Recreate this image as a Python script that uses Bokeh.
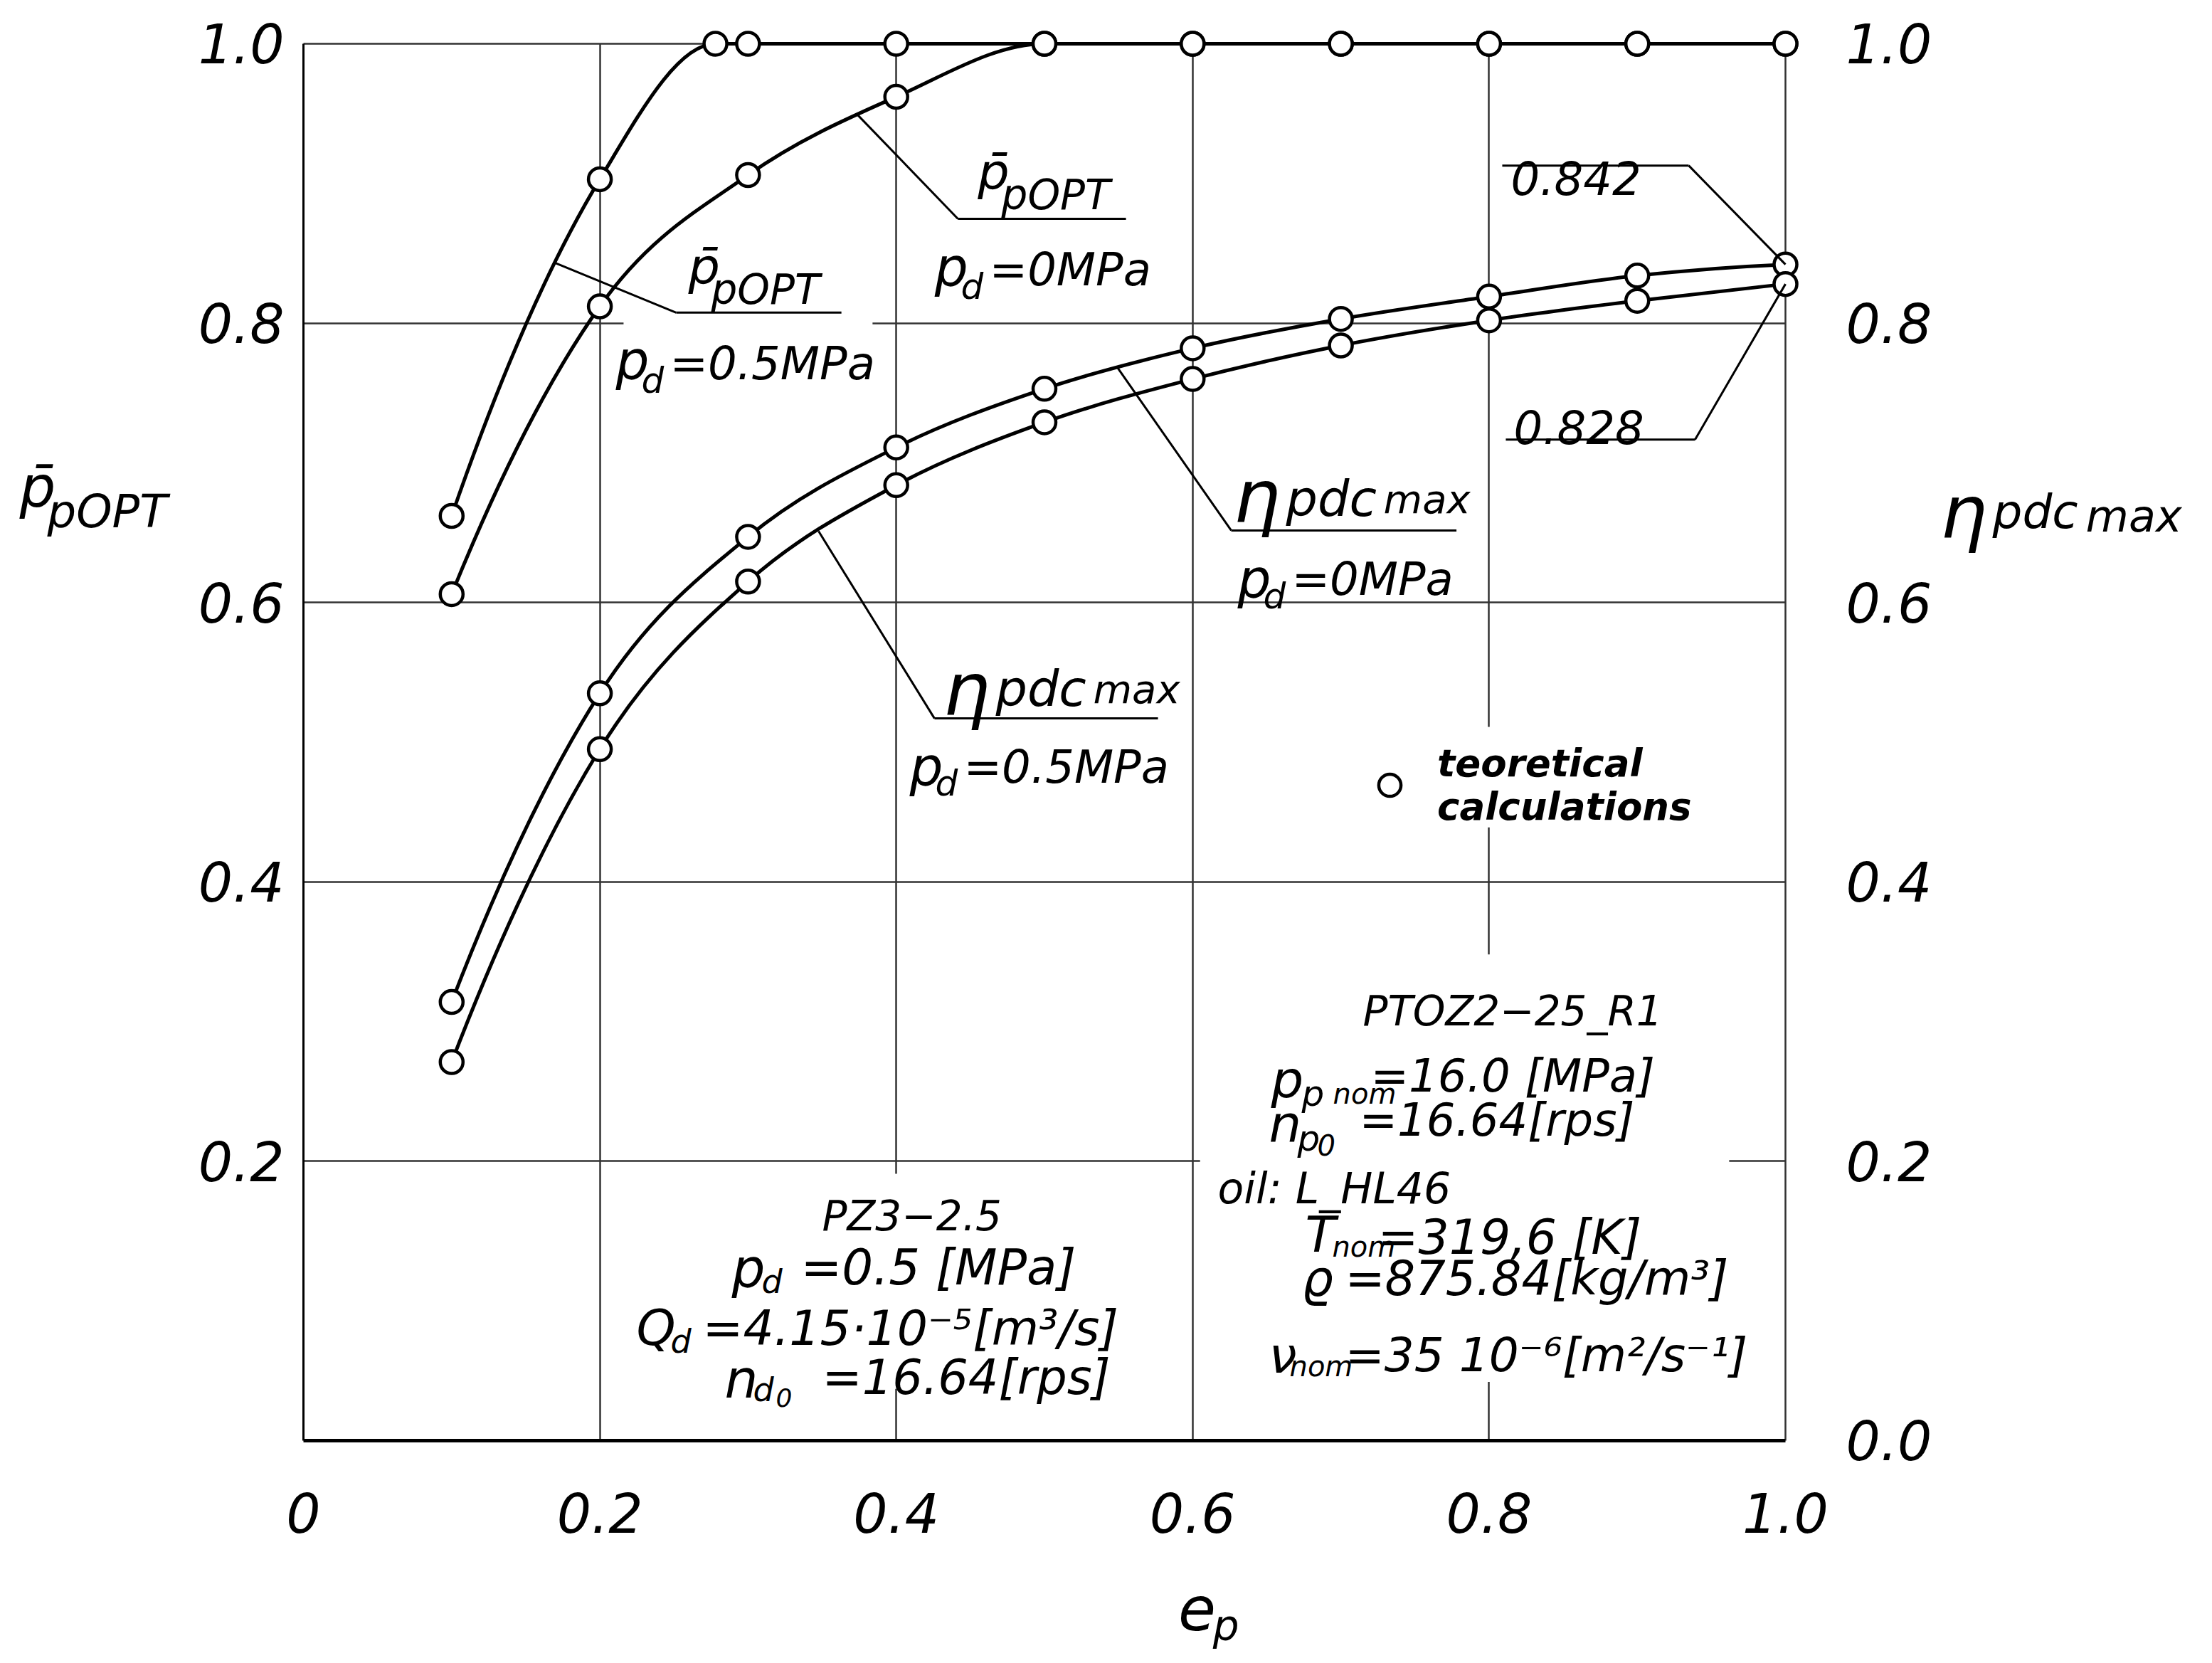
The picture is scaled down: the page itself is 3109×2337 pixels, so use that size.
from bokeh.plotting import figure
from bokeh.models import (Label, Arrow, BoxAnnotation, LinearAxis, FixedTicker,
                          Legend, LegendItem, Range1d)
from bokeh.embed import file_html
from bokeh.resources import INLINE

# ---------------- data ----------------
ep_ticks = [0.0, 0.2, 0.4, 0.6, 0.8, 1.0]
ep_tick_labels = ["0", "0.2", "0.4", "0.6", "0.8", "1.0"]
left_ticks = [0.2, 0.4, 0.6, 0.8, 1.0]
left_tick_labels = ["0.2", "0.4", "0.6", "0.8", "1.0"]
right_ticks = [0.0, 0.2, 0.4, 0.6, 0.8, 1.0]
right_tick_labels = ["0.0", "0.2", "0.4", "0.6", "0.8", "1.0"]

ep_popt_05 = [0.1, 0.2, 0.278, 0.3, 0.4, 0.5, 0.6, 0.7, 0.8, 0.9, 1.0]
popt_05 = [0.662, 0.903, 1.0, 1.0, 1.0, 1.0, 1.0, 1.0, 1.0, 1.0, 1.0]

ep_popt_0 = [0.1, 0.2, 0.3, 0.4, 0.5, 0.6, 0.7, 0.8, 0.9, 1.0]
popt_0 = [0.606, 0.812, 0.906, 0.962, 1.0, 1.0, 1.0, 1.0, 1.0, 1.0]

ep_eta = [0.1, 0.2, 0.3, 0.4, 0.5, 0.6, 0.7, 0.8, 0.9, 1.0]
eta_0 = [0.314, 0.535, 0.647, 0.711, 0.753, 0.782, 0.803, 0.819, 0.834, 0.842]
eta_05 = [0.271, 0.495, 0.615, 0.684, 0.729, 0.760, 0.784, 0.802, 0.816, 0.828]

FONT = "DejaVu Sans"

p = figure(width=3093, height=2321,
           x_range=Range1d(-0.20451, 1.28036), y_range=Range1d(-0.1513, 1.03107),
           output_backend="svg", toolbar_location=None,
           min_border_left=0, min_border_right=0, min_border_top=0, min_border_bottom=0)
p.outline_line_color = None
p.background_fill_color = "white"
p.border_fill_color = "white"


def style_axis(ax, standoff):
    ax.major_tick_in = 0
    ax.major_tick_out = 0
    ax.minor_tick_in = 0
    ax.minor_tick_out = 0
    ax.major_tick_line_color = None
    ax.minor_tick_line_color = None
    ax.major_label_text_font = FONT
    ax.major_label_text_font_style = "italic"
    ax.major_label_text_font_size = "76px"
    ax.major_label_text_color = "black"
    ax.major_label_standoff = standoff


xa = p.xaxis[0]
xa.ticker = FixedTicker(ticks=ep_ticks)
xa.major_label_overrides = {t: s for t, s in zip(ep_ticks, ep_tick_labels)}
xa.bounds = (0, 1.0)
xa.fixed_location = 0
xa.axis_line_width = 5
xa.axis_line_color = "black"
style_axis(xa, 74)

ya = p.yaxis[0]
ya.ticker = FixedTicker(ticks=left_ticks)
ya.major_label_overrides = {t: s for t, s in zip(left_ticks, left_tick_labels)}
ya.bounds = (0, 1.0)
ya.fixed_location = 0
ya.axis_line_width = 3
ya.axis_line_color = "black"
style_axis(ya, 27)

ra = LinearAxis(ticker=FixedTicker(ticks=right_ticks),
                major_label_overrides={t: s for t, s in zip(right_ticks, right_tick_labels)},
                fixed_location=1.0, bounds=(0, 1.0))
ra.axis_line_color = None
style_axis(ra, 85)
p.add_layout(ra, "right")

p.xgrid.ticker = FixedTicker(ticks=ep_ticks[1:])
p.ygrid.ticker = FixedTicker(ticks=left_ticks)
for g in (p.xgrid, p.ygrid):
    g.bounds = (0, 1.0)
    if "cross_bounds" in g.properties():
        g.cross_bounds = (0, 1.0)
    g.grid_line_color = "#333333"
    g.grid_line_width = 2.5

# white masks: keep the grid inside the chart box and interrupt it behind text blocks
masks = [(None, -0.0015, None, None), (1.0015, None, None, None),
         (None, None, 1.0015, None), (None, None, None, -0.0015),
         (0.216, 0.384, 0.78, 0.82), (0.605, 0.962, 0.18, 0.22),
         (0.785, 0.815, 0.439, 0.511), (0.785, 0.815, 0.042, 0.348),
         (0.385, 0.415, 0.037, 0.191)]
for (l, r, b, t) in masks:
    p.add_layout(BoxAnnotation(left=l, right=r, bottom=b, top=t, fill_color="white",
                               fill_alpha=1.0, line_alpha=0, level="underlay"))


# ---------------- smooth curves through the read points ----------------
def bezier_segments(xs, ys):
    n = len(xs)
    h = [xs[i + 1] - xs[i] for i in range(n - 1)]
    d = [(ys[i + 1] - ys[i]) / h[i] for i in range(n - 1)]
    m = [0.0] * n
    for i in range(1, n - 1):
        if d[i - 1] * d[i] <= 0:
            m[i] = 0.0
        else:
            m[i] = (h[i] * d[i - 1] + h[i - 1] * d[i]) / (h[i - 1] + h[i])

    def end_slope(h0, h1, d0, d1):
        s = ((2 * h0 + h1) * d0 - h0 * d1) / (h0 + h1)
        if s * d0 <= 0:
            return 0.0
        if abs(s) > 3 * abs(d0):
            return 3 * d0
        return s

    m[0] = end_slope(h[0], h[1], d[0], d[1])
    m[-1] = end_slope(h[-1], h[-2], d[-1], d[-2])
    for i in range(n - 1):
        if d[i] == 0:
            m[i] = 0.0
            m[i + 1] = 0.0
    for i in range(n - 1):
        if d[i] == 0:
            continue
        a = m[i] / d[i]
        b = m[i + 1] / d[i]
        s = a * a + b * b
        if s > 9:
            tau = 3 / s ** 0.5
            m[i] = tau * a * d[i]
            m[i + 1] = tau * b * d[i]
    seg = dict(x0=[], y0=[], x1=[], y1=[], cx0=[], cy0=[], cx1=[], cy1=[])
    for i in range(n - 1):
        seg["x0"].append(xs[i]); seg["y0"].append(ys[i])
        seg["x1"].append(xs[i + 1]); seg["y1"].append(ys[i + 1])
        seg["cx0"].append(xs[i] + h[i] / 3); seg["cy0"].append(ys[i] + m[i] * h[i] / 3)
        seg["cx1"].append(xs[i + 1] - h[i] / 3); seg["cy1"].append(ys[i + 1] - m[i + 1] * h[i] / 3)
    return seg


series = [(ep_popt_05, popt_05), (ep_popt_0, popt_0), (ep_eta, eta_0), (ep_eta, eta_05)]
for xs, ys in series:
    p.bezier(line_color="black", line_width=5, **bezier_segments(xs, ys))
scs = []
for xs, ys in series:
    scs.append(p.scatter(xs, ys, marker="circle", size=32, fill_color="white",
                         line_color="black", line_width=4.5))

leg = Legend(items=[LegendItem(label="teoretical\ncalculations", renderers=[scs[2]])],
             location=(1914, 1157), padding=0, margin=0, spacing=0,
             glyph_width=78, glyph_height=78, label_standoff=28,
             border_line_color=None, background_fill_alpha=0,
             label_text_font=FONT, label_text_font_style="bold italic",
             label_text_font_size="53px", label_text_color="black")
p.add_layout(leg)


def T(x, y, text, size, style="italic", align="left"):
    p.add_layout(Label(x=x, y=y, text=text, text_font=FONT, text_font_style=style,
                       text_font_size=f"{size}px", text_align=align,
                       text_baseline="alphabetic", text_color="black"))


def leader(pts):
    for (x0, y0), (x1, y1) in zip(pts[:-1], pts[1:]):
        p.add_layout(Arrow(end=None, x_start=x0, y_start=y0, x_end=x1, y_end=y1,
                           line_color="black", line_width=3))


PBAR = "p\u0304"

# axis titles
T(-0.1916, 0.6826, PBAR, 80)
T(-0.1728, 0.6653, "pOPT", 64)
T(1.1044, 0.6648, "η", 104)
T(1.1397, 0.6648, "pdc", 66)
T(1.2026, 0.6617, "max", 62)
T(0.5902, -0.1197, "e", 86)
T(0.6137, -0.1325, "p", 58)

# (a) p_pOPT, p_d = 0 MPa
leader([(0.374, 0.949), (0.4416, 0.8747), (0.555, 0.8747)])
T(0.455, 0.908, PBAR, 70)
T(0.471, 0.8915, "pOPT", 58)
T(0.426, 0.840, "p", 74)
T(0.4436, 0.826, "d", 50)
T(0.4628, 0.838, "=0MPa", 64)

# (b) p_pOPT, p_d = 0.5 MPa
leader([(0.17, 0.843), (0.2515, 0.8075), (0.363, 0.8075)])
T(0.2597, 0.8405, PBAR, 70)
T(0.2751, 0.8242, "pOPT", 58)
T(0.2108, 0.7728, "p", 74)
T(0.228, 0.759, "d", 50)
T(0.2472, 0.7708, "=0.5MPa", 64)

# (c) eta, p_d = 0 MPa
leader([(0.5487, 0.769), (0.626, 0.6516), (0.778, 0.6516)])
T(0.6274, 0.6762, "η", 104)
T(0.663, 0.674, "pdc", 70)
T(0.7288, 0.674, "max", 56)
T(0.6303, 0.6169, "p", 74)
T(0.6476, 0.6042, "d", 50)
T(0.6668, 0.6169, "=0MPa", 64)

# (d) eta, p_d = 0.5 MPa
leader([(0.3476, 0.651), (0.4258, 0.517), (0.5766, 0.517)])
T(0.4316, 0.5384, "η", 104)
T(0.4671, 0.538, "pdc", 70)
T(0.5329, 0.538, "max", 56)
T(0.409, 0.482, "p", 74)
T(0.4263, 0.4707, "d", 50)
T(0.4455, 0.482, "=0.5MPa", 64)

# end values
T(0.8147, 0.9037, "0.842", 64)
leader([(0.8089, 0.9128), (0.9347, 0.9128), (ep_eta[-1], eta_0[-1])])
T(0.8166, 0.7254, "0.828", 64)
leader([(0.8113, 0.7166), (0.939, 0.7166), (ep_eta[-1], eta_05[-1])])

# PTOZ block
T(0.7148, 0.3072, "PTOZ2\u221225_R1", 58)
T(0.6529, 0.2583, "p", 72)
T(0.6736, 0.2481, "p", 50)
T(0.6947, 0.2481, "nom", 40)
T(0.7201, 0.2613, "=16.0 [MPa]", 64)
T(0.6515, 0.2272, "n", 72)
T(0.6707, 0.216, "p", 50)
T(0.6841, 0.2119, "0", 40)
T(0.7124, 0.2297, "=16.64[rps]", 64)
T(0.6169, 0.1808, "oil:  L_HL46", 60)
T(0.676, 0.1477, "T", 70)
T(0.6942, 0.1386, "nom", 40)
T(0.7249, 0.1457, "=319,6  [K]", 68)
T(0.6736, 0.1161, "ϱ", 70)
T(0.7028, 0.1161, "=875.84[kg/m³]", 67)
T(0.6515, 0.0611, "ν", 70)
T(0.6654, 0.053, "nom", 40)
T(0.7028, 0.0611, "=35 10⁻⁶[m²/s⁻¹]", 66)

# PZ3 block
T(0.35, 0.1605, "PZ3\u22122.5", 58)
T(0.289, 0.1228, "p", 74)
T(0.3092, 0.1136, "d", 46)
T(0.3356, 0.1238, "=0.5  [MPa]", 69)
T(0.2247, 0.0805, "Q", 70)
T(0.2477, 0.0713, "d", 46)
T(0.2693, 0.0805, "=4.15·10⁻⁵[m³/s]", 68)
T(0.2842, 0.0443, "n", 74)
T(0.3034, 0.0362, "d", 46)
T(0.3188, 0.0306, "0", 36)
T(0.35, 0.0453, "=16.64[rps]", 67)

open("out.html", "w").write(file_html(p, INLINE))
